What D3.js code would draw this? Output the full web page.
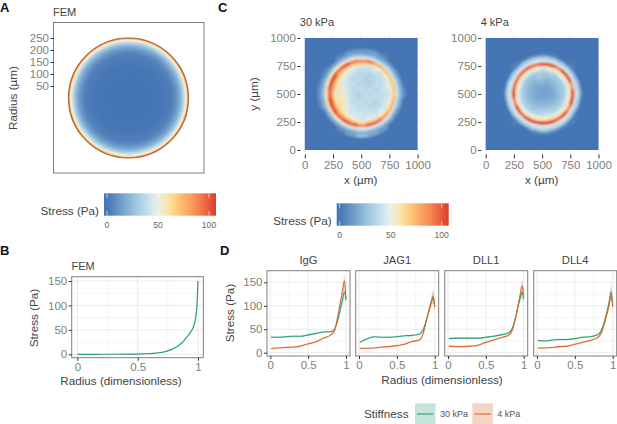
<!DOCTYPE html>
<html>
<head>
<meta charset="utf-8">
<script src="https://d3js.org/d3.v7.min.js"></script>
<style>
    html, body { margin: 0; background: #fff; }
    svg { display: block; }
    text { font-family: "Liberation Sans", Arial, sans-serif; fill: #444; }
    .tick text { fill: #808080; }
</style>
</head>
<body>
<svg id="chart" width="617" height="424"></svg>
<script>
// Colour bar
const colorStops = [0, 12, 25, 38, 48, 56, 65, 75, 88, 100, 107];
const colorValues = ['#4575b4', '#6b97c8', '#93bedb', '#c0dcea', '#e2eff0', '#f6ecc0', '#fed98a', '#fdb46b', '#f98a55', '#e9583c', '#d93f2b'];
const colorTicks = [0, 50, 100];

// FEM radial profile (panels A and B)
const femRadius = [0, 0.1, 0.2, 0.3, 0.4, 0.5, 0.55, 0.6, 0.65, 0.7, 0.75, 0.78, 0.8, 0.82, 0.84, 0.86, 0.88, 0.9, 0.92, 0.94, 0.95, 0.96, 0.97, 0.98, 0.99, 1];
const femStress = [0, 0, 0.1, 0.1, 0.2, 0.5, 1, 1.5, 2.5, 4, 7, 10, 12, 15, 18, 22, 27, 33, 39, 46, 50, 55, 63, 74, 96, 150];
const femRadiusTicks = [50, 100, 150, 200, 250];

// Traction maps (panel C), centre of the monolayer: rows top to bottom, cells of 50 um
const coreOffsets = [-225, -175, -125, -75, -25, 25, 75, 125, 175, 225];
const core30 = [
    [56, 54, 50, 46, 40, 44, 46, 48, 50, 50],
    [58, 56, 46, 40, 34, 38, 32, 40, 46, 48],
    [56, 52, 44, 34, 42, 30, 38, 34, 44, 46],
    [54, 50, 40, 44, 32, 40, 30, 42, 36, 46],
    [58, 54, 46, 34, 42, 34, 44, 32, 42, 46],
    [60, 56, 44, 40, 30, 42, 36, 44, 34, 48],
    [62, 60, 50, 36, 44, 32, 42, 30, 42, 46],
    [60, 58, 50, 44, 34, 44, 34, 40, 38, 48],
    [54, 52, 48, 42, 46, 38, 46, 36, 44, 48],
    [52, 50, 48, 46, 44, 46, 44, 46, 46, 50]
];
const core4 = [
    [40, 40, 38, 36, 34, 36, 38, 38, 40, 42],
    [42, 36, 32, 30, 34, 28, 34, 32, 36, 42],
    [40, 32, 28, 24, 28, 22, 26, 30, 34, 40],
    [38, 34, 24, 18, 20, 16, 22, 28, 32, 38],
    [36, 30, 22, 20, 14, 18, 14, 24, 30, 36],
    [38, 32, 24, 16, 18, 14, 20, 22, 32, 38],
    [40, 34, 26, 22, 18, 22, 20, 28, 34, 40],
    [42, 38, 32, 26, 30, 26, 30, 34, 38, 42],
    [44, 42, 36, 38, 34, 40, 36, 42, 42, 44],
    [44, 44, 42, 40, 44, 42, 46, 44, 44, 46]
];

// Traction maps, rim: rows are angles clockwise from the top, columns radial bins in um
const mapAngles = d3.range(0, 360, 15);
const mapEdges30 = [220, 250, 275, 305, 330, 350, 370, 395];
const mapEdges4 = [205, 230, 250, 280, 300, 320, 338, 358];
const map30 = [
    [44, 64, 88, 50, 26, 16, 12],
    [40, 60, 92, 46, 24, 16, 14],
    [44, 54, 76, 42, 22, 14, 8],
    [38, 54, 72, 40, 22, 12, 0],
    [42, 52, 68, 40, 22, 14, 0],
    [46, 54, 68, 42, 24, 16, 0],
    [40, 52, 68, 42, 26, 18, 6],
    [44, 56, 72, 40, 24, 14, 0],
    [42, 58, 74, 42, 20, 12, 0],
    [48, 60, 82, 44, 24, 14, 0],
    [44, 64, 96, 46, 26, 16, 12],
    [48, 66, 100, 48, 28, 18, 18],
    [44, 60, 88, 48, 30, 20, 26],
    [50, 68, 100, 50, 26, 16, 16],
    [54, 72, 102, 52, 26, 14, 6],
    [60, 76, 96, 54, 24, 14, 0],
    [62, 80, 106, 58, 26, 14, 0],
    [58, 80, 112, 60, 28, 18, 8],
    [56, 78, 96, 58, 30, 20, 10],
    [62, 80, 102, 56, 28, 18, 6],
    [60, 84, 108, 56, 26, 14, 6],
    [56, 74, 96, 54, 24, 14, 0],
    [50, 70, 104, 54, 26, 16, 6],
    [46, 66, 92, 50, 28, 18, 12]
];
const map4 = [
    [40, 58, 108, 48, 38, 28, 6],
    [46, 60, 114, 50, 36, 26, 4],
    [42, 56, 92, 46, 34, 20, 0],
    [48, 58, 110, 46, 34, 18, 0],
    [44, 56, 104, 44, 34, 18, 0],
    [42, 52, 84, 44, 36, 24, 0],
    [46, 58, 104, 46, 38, 26, 2],
    [48, 60, 106, 46, 36, 24, 0],
    [44, 56, 90, 44, 34, 18, 0],
    [50, 60, 104, 46, 36, 24, 0],
    [48, 62, 100, 48, 38, 28, 6],
    [54, 66, 110, 50, 40, 32, 10],
    [50, 64, 110, 50, 42, 34, 14],
    [52, 62, 110, 48, 40, 30, 8],
    [48, 60, 106, 48, 36, 22, 0],
    [46, 58, 98, 46, 36, 22, 0],
    [44, 58, 108, 48, 38, 26, 0],
    [44, 54, 90, 48, 40, 28, 0],
    [44, 58, 110, 50, 42, 30, 2],
    [46, 56, 100, 48, 40, 28, 0],
    [44, 56, 96, 46, 36, 22, 0],
    [46, 58, 100, 46, 34, 18, 0],
    [42, 56, 98, 46, 36, 24, 2],
    [46, 58, 96, 48, 38, 28, 4]
];
const mapTicks = [0, 250, 500, 750, 1000];

// Line profiles (panel D)
const facetNames = ['IgG', 'JAG1', 'DLL1', 'DLL4'];
const profileRadius = [0.01, 0.1, 0.2, 0.3, 0.4, 0.5, 0.6, 0.7, 0.8, 0.85, 0.9, 0.95, 0.98, 1];
const green = [
    [33, 33, 34, 35, 35, 38, 41, 44, 45, 50, 75, 110, 130, 113],
    [22, 29, 34, 33, 33, 34, 36, 37, 40, 50, 75, 105, 118, 98],
    [30, 31, 31, 31, 31, 33, 35, 38, 42, 52, 80, 115, 128, 115],
    [26, 25, 27, 28, 28, 30, 33, 34, 38, 48, 72, 105, 130, 100]
];
const orange = [
    [9, 10, 11, 12, 14, 19, 23, 31, 38, 48, 85, 128, 153, 113],
    [9, 9.5, 10, 12, 13, 15, 18, 24, 27, 42, 75, 105, 120, 98],
    [14, 13, 13, 14, 16, 22, 27, 32, 37, 48, 80, 120, 143, 122],
    [10, 10, 11, 13, 14, 18, 22, 26, 32, 42, 68, 100, 123, 98]
];
const ribbonHalf = [2, 2, 2, 2, 2, 2, 2, 2, 2, 3, 5, 9, 14, 10];
const stressTicks = [0, 50, 100, 150];
const stressMinor = [25, 75, 125];
const radiusTicks = [0, 0.5, 1];
const radiusMinor = [0.25, 0.75];

const svg = d3.select('#chart');
const stressColor = d3.scaleLinear().domain(colorStops).range(colorValues).clamp(true);
const greenColor = '#2b9d78';
const orangeColor = '#d9682b';
const titleSize = 11.7;
const tickSize = 11.5;

const defs = svg.append('defs');
[['rimBlur', 0.95], ['coreBlur', 2.6]].forEach(([id, dev]) => {
    defs.append('filter').attr('id', id).attr('x', '-20%').attr('y', '-20%').attr('width', '140%').attr('height', '140%')
        .append('feGaussianBlur').attr('stdDeviation', dev);
});

function label(x, y, text, size, opts = {}) {
    const t = svg.append('text')
        .attr('x', x)
        .attr('y', y)
        .attr('font-size', size)
        .attr('text-anchor', opts.anchor || 'start')
        .attr('font-weight', opts.weight || 'normal')
        .text(text);
    if (opts.rotate) t.attr('transform', `rotate(-90 ${x} ${y})`);
    return t;
}

function styleAxis(g) {
    g.select('.domain').remove();
    g.selectAll('.tick line').attr('stroke', '#333').attr('stroke-width', 1);
    g.selectAll('.tick text').attr('font-size', tickSize).attr('font-family', '"Liberation Sans", Arial, sans-serif');
}

function fmt(v) {
    return String(v);
}

// Panel A
function drawFemMap() {
    svg.append('rect').attr('x', 53.5).attr('y', 22.5).attr('width', 150.5).attr('height', 150.5)
        .attr('fill', '#fff').attr('stroke', '#7f7f7f').attr('stroke-width', 1);
    const y = d3.scaleLinear().domain([0, 250]).range([98, 38]);
    const r = d3.scaleLinear().domain([0, 1]).range([0, 60]);
    const g = svg.append('g').attr('transform', 'translate(128.5,98)');
    // painted outside in, so the discs leave no seams between them
    g.selectAll('circle.disc').data(d3.range(femRadius.length - 1, 0, -1)).enter().append('circle')
        .attr('class', 'disc')
        .attr('r', i => r(femRadius[i]))
        .attr('fill', i => stressColor(femStress[i - 1]));
    g.append('circle').attr('r', r(1)).attr('fill', 'none').attr('stroke', '#b0613f').attr('stroke-width', 1.2);
    const axis = svg.append('g').attr('transform', 'translate(53.5,0)')
        .call(d3.axisLeft(y).tickValues(femRadiusTicks).tickSize(3).tickPadding(1.5));
    styleAxis(axis);
    label(17, 98, 'Radius (µm)', titleSize, { anchor: 'middle', rotate: true });
    label(53, 15.5, 'FEM', 11);
}

// Colour bar legend
function drawColorBar(x0, y0) {
    const x = d3.scaleLinear().domain([0, 100]).range([x0 + 3, x0 + 105]);
    const id = `bar${x0}`;
    const grad = defs.append('linearGradient').attr('id', id);
    const lo = x.invert(x0), hi = x.invert(x0 + 112);
    d3.range(0, 1.0001, 0.05).forEach(t => {
        grad.append('stop').attr('offset', t).attr('stop-color', stressColor(lo + t * (hi - lo)));
    });
    svg.append('rect').attr('x', x0).attr('y', y0).attr('width', 112).attr('height', 22.4).attr('fill', `url(#${id})`);
    colorTicks.forEach(v => {
        [[y0, y0 + 4.5], [y0 + 17.9, y0 + 22.4]].forEach(([a, b]) => {
            svg.append('line').attr('x1', x(v)).attr('x2', x(v)).attr('y1', a).attr('y2', b)
                .attr('stroke', '#fff').attr('stroke-width', 0.6);
        });
        label(x(v), y0 + 35, fmt(v), 8.6, { anchor: 'middle' }).style('fill', '#666');
    });
    label(x0 - 5, y0 + 22, 'Stress (Pa)', titleSize, { anchor: 'end' });
}

// Panel C
function drawTractionMap(x0, title, core, values, edges, cx, cy, showY) {
    const x = d3.scaleLinear().domain([0, 1000]).range([x0, x0 + 112.8]);
    const y = d3.scaleLinear().domain([0, 1000]).range([150, 38]);
    const rad = d3.scaleLinear().domain([0, 1000]).range([0, 112.4]);
    // faint grid behind the raster
    mapTicks.forEach(v => {
        svg.append('line').attr('x1', x(v)).attr('x2', x(v)).attr('y1', 33).attr('y2', 155).attr('stroke', '#ebebeb').attr('stroke-width', 0.7);
        svg.append('line').attr('x1', x0 - 5).attr('x2', x0 + 118).attr('y1', y(v)).attr('y2', y(v)).attr('stroke', '#ebebeb').attr('stroke-width', 0.7);
    });
    svg.append('rect').attr('x', x(0)).attr('y', y(1000)).attr('width', x(1000) - x(0)).attr('height', y(0) - y(1000))
        .attr('fill', stressColor(0));

    const clipId = `clip${x0}`;
    defs.append('clipPath').attr('id', clipId).append('rect')
        .attr('x', x(0)).attr('y', y(1000)).attr('width', x(1000) - x(0)).attr('height', y(0) - y(1000));
    const layer = svg.append('g').attr('clip-path', `url(#${clipId})`);

    // centre as blurred square cells
    const cellSize = rad(50);
    const coreCells = [];
    core.forEach((row, j) => row.forEach((v, i) => coreCells.push({ dx: coreOffsets[i], dy: coreOffsets[j], value: v })));
    layer.append('g').attr('filter', 'url(#coreBlur)')
        .selectAll('rect').data(coreCells).enter().append('rect')
        .attr('x', d => x(cx + d.dx) - cellSize / 2)
        .attr('y', d => y(cy - d.dy) - cellSize / 2)
        .attr('width', cellSize + 0.3)
        .attr('height', cellSize + 0.3)
        .attr('fill', d => stressColor(d.value));

    // rim as blurred annular sectors
    const step = 2 * Math.PI / mapAngles.length;
    const cells = [];
    values.forEach((row, a) => {
        row.forEach((v, b) => {
            cells.push({
                innerRadius: rad(edges[b]),
                outerRadius: rad(edges[b + 1]),
                startAngle: mapAngles[a] * Math.PI / 180 - step / 2,
                endAngle: mapAngles[a] * Math.PI / 180 + step / 2,
                value: v
            });
        });
    });
    const arc = d3.arc();
    layer.append('g').attr('filter', 'url(#rimBlur)')
        .attr('transform', `translate(${x(cx)},${y(cy)})`)
        .selectAll('path').data(cells).enter().append('path')
        .attr('d', arc)
        .attr('fill', d => stressColor(d.value))
        .attr('stroke', d => stressColor(d.value))
        .attr('stroke-width', 0.4);

    const bottom = svg.append('g').attr('transform', 'translate(0,154.5)')
        .call(d3.axisBottom(x).tickValues(mapTicks).tickSize(4).tickPadding(2).tickFormat(fmt));
    styleAxis(bottom);
    const left = svg.append('g').attr('transform', `translate(${x0 - 4.5},0)`)
        .call(d3.axisLeft(y).tickValues(mapTicks).tickSize(3).tickPadding(1.5).tickFormat(fmt));
    styleAxis(left);
    label(x0 + 56, 184, 'x (µm)', titleSize, { anchor: 'middle' });
    label(x0 - 5, 26, title, 11);
    if (showY) label(258, 94, 'y (µm)', titleSize, { anchor: 'middle', rotate: true });
}

function drawPanelFrame(x0, x1, y0, y1, x, y) {
    const minorY = stressMinor.map(v => ({ v, w: 0.5 }));
    const majorY = stressTicks.map(v => ({ v, w: 1 }));
    minorY.concat(majorY).forEach(d => {
        svg.append('line').attr('x1', x0).attr('x2', x1).attr('y1', y(d.v)).attr('y2', y(d.v))
            .attr('stroke', '#ebebeb').attr('stroke-width', d.w);
    });
    radiusMinor.map(v => ({ v, w: 0.5 })).concat(radiusTicks.map(v => ({ v, w: 1 }))).forEach(d => {
        svg.append('line').attr('x1', x(d.v)).attr('x2', x(d.v)).attr('y1', y0).attr('y2', y1)
            .attr('stroke', '#ebebeb').attr('stroke-width', d.w);
    });
}

function drawPanelBorder(x0, x1, y0, y1) {
    svg.append('rect').attr('x', x0).attr('y', y0).attr('width', x1 - x0).attr('height', y1 - y0)
        .attr('fill', 'none').attr('stroke', '#7f7f7f').attr('stroke-width', 1);
}

// Panel B
function drawFemLine() {
    const [x0, x1, y0, y1] = [71.7, 203.3, 276.7, 357.7];
    const x = d3.scaleLinear().domain([0, 1]).range([77.4, 198]);
    const y = d3.scaleLinear().domain([0, 150]).range([354.3, 281]);
    drawPanelFrame(x0, x1, y0, y1, x, y);
    svg.append('path').datum(femRadius.map((r, i) => [r, femStress[i]]))
        .attr('d', d3.line().curve(d3.curveMonotoneX).x(d => x(d[0])).y(d => y(d[1])))
        .attr('fill', 'none').attr('stroke', greenColor).attr('stroke-width', 1.2);
    drawPanelBorder(x0, x1, y0, y1);
    const bottom = svg.append('g').attr('transform', `translate(0,${y1})`)
        .call(d3.axisBottom(x).tickValues(radiusTicks).tickSize(3).tickPadding(2).tickFormat(fmt));
    styleAxis(bottom);
    const left = svg.append('g').attr('transform', `translate(${x0},0)`)
        .call(d3.axisLeft(y).tickValues(stressTicks).tickSize(3).tickPadding(1.5));
    styleAxis(left);
    label(121, 385, 'Radius (dimensionless)', titleSize, { anchor: 'middle' });
    label(38, 318, 'Stress (Pa)', titleSize, { anchor: 'middle', rotate: true });
    label(71.5, 270, 'FEM', 11);
}

// Panel D
function drawFacet(i, x0) {
    const x1 = x0 + 83;
    const [y0, y1] = [270.7, 356];
    const x = d3.scaleLinear().domain([0, 1]).range([x0 + 3.3, x0 + 79]);
    const y = d3.scaleLinear().domain([0, 150]).range([352.7, 282.3]);
    drawPanelFrame(x0, x1, y0, y1, x, y);

    const area = d3.area().curve(d3.curveMonotoneX).x((d, k) => x(profileRadius[k]))
        .y0((d, k) => y(d - ribbonHalf[k])).y1((d, k) => y(d + ribbonHalf[k]));
    const line = d3.line().curve(d3.curveMonotoneX).x((d, k) => x(profileRadius[k])).y(d => y(d));
    [[green[i], greenColor], [orange[i], orangeColor]].forEach(([vals, c]) => {
        svg.append('path').datum(vals).attr('d', area).attr('fill', c).attr('opacity', 0.2);
        svg.append('path').datum(vals).attr('d', line).attr('fill', 'none').attr('stroke', c).attr('stroke-width', 1.1);
    });
    drawPanelBorder(x0, x1, y0, y1);

    const bottom = svg.append('g').attr('transform', `translate(0,${y1})`)
        .call(d3.axisBottom(x).tickValues(radiusTicks).tickSize(3).tickPadding(2).tickFormat(fmt));
    styleAxis(bottom);
    if (i === 0) {
        const left = svg.append('g').attr('transform', `translate(${x0},0)`)
            .call(d3.axisLeft(y).tickValues(stressTicks).tickSize(3).tickPadding(1.5));
        styleAxis(left);
    }
    label((x0 + x1) / 2, 264, facetNames[i], 11.2, { anchor: 'middle' });
}

function drawLegend() {
    label(408.5, 418, 'Stiffness', titleSize, { anchor: 'end' });
    [[415, '30 kPa', greenColor], [472.3, '4 kPa', orangeColor]].forEach(([x, text, c]) => {
        svg.append('rect').attr('x', x).attr('y', 403.3).attr('width', 20.5).attr('height', 20.7)
            .attr('fill', c).attr('opacity', 0.28);
        svg.append('line').attr('x1', x + 2).attr('x2', x + 18.5).attr('y1', 414).attr('y2', 414)
            .attr('stroke', c).attr('stroke-width', 1.1);
        label(x + 25, 417, text, 9).style('fill', '#555');
    });
}

drawFemMap();
drawColorBar(104, 193.3);
drawTractionMap(304.8, '30 kPa', core30, map30, mapEdges30, 505, 506, true);
drawTractionMap(485.7, '4 kPa', core4, map4, mapEdges4, 509, 503, false);
drawColorBar(336.7, 203.3);
drawFemLine();
[267, 355.7, 444.7, 533.7].forEach((x0, i) => drawFacet(i, x0));
label(442, 384, 'Radius (dimensionless)', titleSize, { anchor: 'middle' });
label(234, 313, 'Stress (Pa)', titleSize, { anchor: 'middle', rotate: true });
drawLegend();

label(0, 12, 'A', 13, { weight: 'bold' }).style('fill', '#111');
label(218, 12, 'C', 13, { weight: 'bold' }).style('fill', '#111');
label(0, 255, 'B', 13, { weight: 'bold' }).style('fill', '#111');
label(220, 255, 'D', 13, { weight: 'bold' }).style('fill', '#111');
</script>
</body>
</html>
